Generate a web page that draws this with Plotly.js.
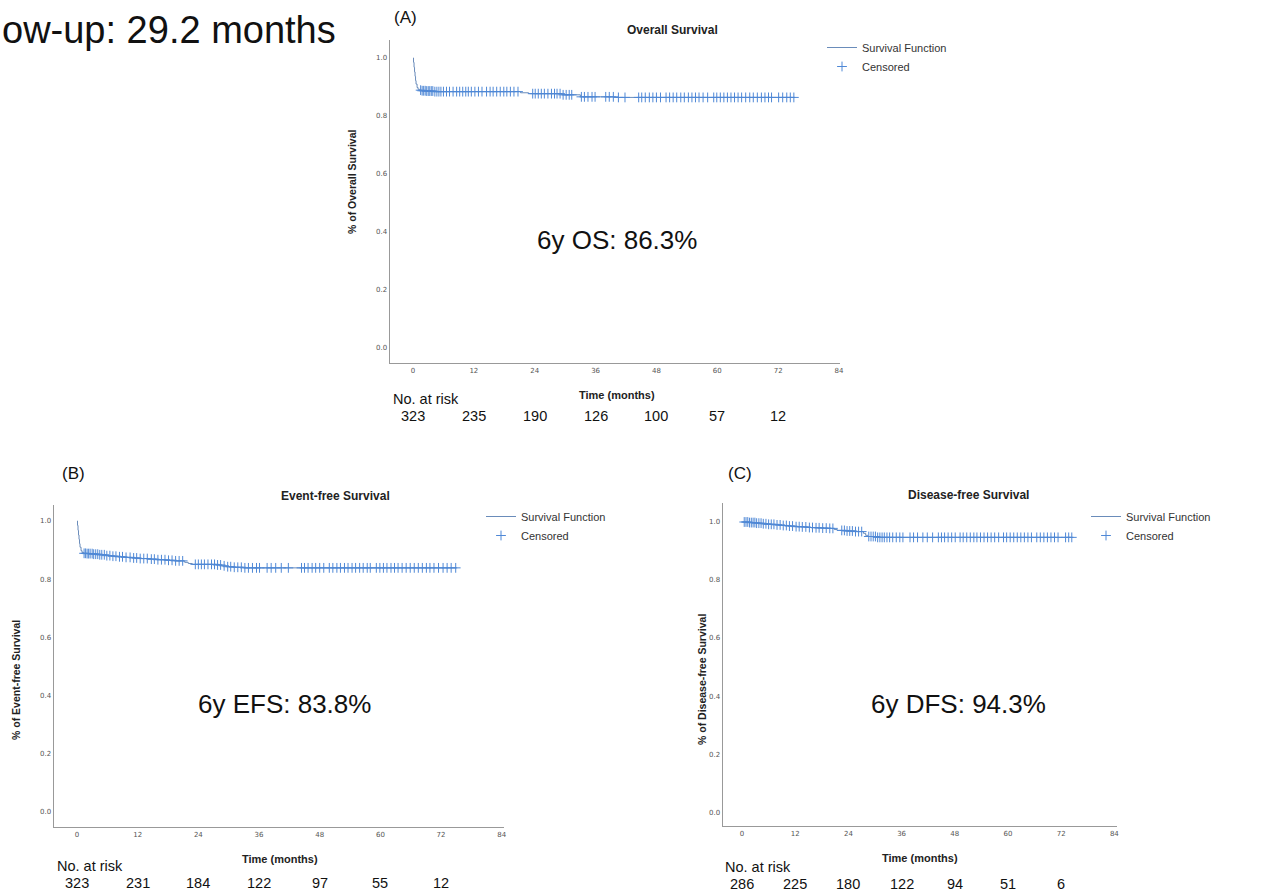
<!DOCTYPE html>
<html><head><meta charset="utf-8">
<script src="https://cdn.plot.ly/plotly-3.0.1.min.js"></script>
<style>html,body{margin:0;padding:0;background:#fff;}#chart{width:1287px;height:896px;}</style>
</head><body><div id="chart"></div>
<script>
// ---------- data ----------
const tickMonths = [0, 12, 24, 36, 48, 60, 72, 84];
const riskMonths = [0, 12, 24, 36, 48, 60, 72];
const yTicks = [0, 0.2, 0.4, 0.6, 0.8, 1.0];
const yTickText = ['0.0', '0.2', '0.4', '0.6', '0.8', '1.0'];

const osRisk = [323, 235, 190, 126, 100, 57, 12];
const efsRisk = [323, 231, 184, 122, 97, 55, 12];
const dfsRisk = [286, 225, 180, 122, 94, 51, 6];

// Overall survival (step function)
const osTime = [0, 0.1, 0.2, 0.3, 0.4, 0.5, 0.6, 0.8, 1.0, 1.3, 1.8, 2.6, 4.0, 21.2, 22.8, 29.4, 33.0, 40.0, 75.2];
const osSurv = [1.0, 0.985, 0.968, 0.952, 0.937, 0.922, 0.910, 0.898, 0.892, 0.889, 0.887, 0.886, 0.884, 0.880, 0.877, 0.873, 0.866, 0.864, 0.864];
const osCensor = [1.5,1.8,2.1,2.4,2.7,3.0,3.3,3.6,3.9,4.3,4.7,5.1,5.5,6.0,6.6,7.2,7.9,8.6,9.2,9.8,10.4,10.9,11.5,12.2,12.9,13.6,14.5,15.2,15.8,16.5,17.2,17.9,18.5,19.2,19.9,20.7,23.6,24.1,24.7,25.3,25.9,26.6,27.3,27.9,28.4,29.0,29.6,30.2,30.8,31.3,33.2,33.8,34.5,35.3,35.9,38.0,38.7,39.5,40.5,41.8,44.5,45.1,45.8,46.6,47.3,48.0,48.8,49.9,50.6,51.3,52.0,52.8,53.5,54.3,55.0,55.7,56.4,57.2,58.1,59.3,59.9,60.6,61.3,62.0,62.7,63.4,64.1,64.8,65.6,66.4,67.1,67.9,68.7,69.4,70.1,70.7,72.1,72.9,73.7,74.4,75.1];

// Event-free survival
const efsTime = [0, 0.1, 0.2, 0.3, 0.4, 0.5, 0.6, 0.8, 1.0, 1.3, 2.0, 3.2, 4.5, 5.8, 7.0, 8.2, 9.5, 11.0, 12.5, 14.0, 15.8, 17.5, 19.5, 21.3, 22.0, 22.8, 27.6, 28.6, 29.6, 31.0, 33.0, 75.2];
const efsSurv = [1.0, 0.985, 0.968, 0.952, 0.937, 0.922, 0.910, 0.898, 0.892, 0.889, 0.888, 0.886, 0.884, 0.881, 0.879, 0.877, 0.875, 0.873, 0.871, 0.869, 0.867, 0.865, 0.863, 0.858, 0.854, 0.851, 0.849, 0.846, 0.843, 0.841, 0.839, 0.839];
const efsCensor = [1.4,1.7,2.0,2.3,2.6,3.0,3.3,3.7,4.1,4.5,4.9,5.4,5.9,6.5,7.1,7.7,8.4,9.0,9.7,10.5,11.2,11.8,12.5,13.2,13.9,14.7,15.3,16.0,16.7,17.4,18.1,18.8,19.5,20.2,20.9,23.4,24.0,24.6,25.2,25.9,26.6,27.2,27.8,28.4,29.1,29.8,30.4,31.1,31.8,32.5,33.2,33.9,34.7,35.5,36.1,37.6,38.4,39.3,40.4,41.8,44.4,45.0,45.7,46.5,47.2,48.0,48.8,49.9,50.6,51.4,52.1,52.9,53.6,54.4,55.1,55.9,56.6,57.4,58.0,59.2,59.9,60.6,61.3,62.1,62.8,63.5,64.3,65.1,65.9,66.7,67.5,68.3,69.1,69.8,70.6,71.5,72.4,73.2,74.0,74.9];

// Disease-free survival
const dfsTime = [0, 1.5, 3.0, 4.5, 6.0, 7.5, 9.0, 10.5, 12.0, 13.5, 15.0, 16.5, 18.0, 19.5, 20.8, 21.5, 23.5, 25.5, 27.4, 27.9, 28.4, 30.5, 74.6];
const dfsSurv = [1.0, 0.998, 0.996, 0.994, 0.992, 0.990, 0.988, 0.986, 0.984, 0.983, 0.981, 0.980, 0.979, 0.978, 0.974, 0.971, 0.969, 0.967, 0.961, 0.954, 0.950, 0.947, 0.947];
const dfsCensor = [0.5,0.9,1.3,1.7,2.1,2.5,2.9,3.3,3.8,4.3,4.8,5.4,6.0,6.6,7.2,7.9,8.6,9.3,10.0,10.7,11.4,12.2,12.9,13.6,14.4,15.2,15.9,16.7,17.4,18.2,19.0,19.8,20.5,22.5,23.1,23.7,24.3,24.9,25.6,26.3,27.0,28.6,29.1,29.6,30.1,30.6,31.1,31.6,32.1,32.7,33.3,34.0,34.8,35.6,36.3,37.9,38.7,39.6,40.8,41.8,43.0,44.3,45.0,45.7,46.5,47.3,48.1,49.2,49.9,50.7,51.5,52.3,53.0,53.8,54.6,55.4,56.2,57.0,57.9,59.0,59.7,60.5,61.3,62.1,62.9,63.7,64.5,65.3,66.5,67.3,68.1,68.9,69.7,70.5,71.3,73.0,73.7,74.4];

// ---------- helpers ----------
const W = 1287, H = 896;
const px = x => x / W;
const py = y => 1 - y / H;
function survAt(times, surv, t) {
  let v = surv[0];
  for (let i = 0; i < times.length; i++) { if (times[i] <= t) v = surv[i]; else break; }
  return v;
}
const LINE_COLOR = '#6a8cba';
const CENS_COLOR = '#4f88d6';
const FONT = 'Liberation Sans, Arial, sans-serif';

function panelTraces(times, surv, cens, xa, ya, leg) {
  return [
    { x: times, y: surv, xaxis: xa, yaxis: ya, legend: leg, type: 'scatter', mode: 'lines',
      line: { shape: 'hv', color: LINE_COLOR, width: 1 }, name: 'Survival Function', hoverinfo: 'skip' },
    { x: cens, y: cens.map(t => survAt(times, surv, t)), xaxis: xa, yaxis: ya, legend: leg, type: 'scatter', mode: 'markers',
      marker: { symbol: 'cross-thin', size: 7, color: CENS_COLOR, line: { color: CENS_COLOR, width: 1 } },
      name: 'Censored', hoverinfo: 'skip' }
  ];
}

const data = [].concat(
  panelTraces(osTime, osSurv, osCensor, 'x', 'y', 'legend'),
  panelTraces(efsTime, efsSurv, efsCensor, 'x2', 'y2', 'legend2'),
  panelTraces(dfsTime, dfsSurv, dfsCensor, 'x3', 'y3', 'legend3')
);

function xAxis(domain, range, anchor) {
  return { domain: domain, range: range, anchor: anchor, showline: true, linecolor: '#999', linewidth: 1.4,
    showgrid: false, zeroline: false, ticks: '', tickvals: tickMonths, ticktext: tickMonths.map(String),
    tickfont: { family: 'DejaVu Sans, sans-serif', size: 7, color: '#555' }, fixedrange: true };
}
function yAxis(domain, range, anchor) {
  return { domain: domain, range: range, anchor: anchor, showline: true, linecolor: '#999', linewidth: 1.4,
    showgrid: false, zeroline: false, ticks: '', tickvals: yTicks, ticktext: yTickText,
    tickfont: { family: 'DejaVu Sans, sans-serif', size: 7, color: '#555' }, fixedrange: true };
}
function legendAt(x, y) {
  return { x: px(x), y: py(y), xanchor: 'left', yanchor: 'top', bgcolor: 'rgba(0,0,0,0)',
    font: { family: FONT, size: 11, color: '#333' }, tracegroupgap: 0, itemwidth: 30 };
}

const annotations = [];
function txt(text, x, y, size, opts) {
  annotations.push(Object.assign({ text: text, x: px(x), y: py(y), xref: 'paper', yref: 'paper',
    showarrow: false, xanchor: 'center', yanchor: 'middle',
    font: { family: FONT, size: size, color: '#111' } }, opts || {}));
}
function risk(values, xref, y) {
  values.forEach((v, i) => annotations.push({ text: String(v), x: riskMonths[i], xref: xref, y: py(y), yref: 'paper',
    showarrow: false, xanchor: 'center', yanchor: 'middle', font: { family: FONT, size: 14.5, color: '#111' } }));
}

txt('ow-up: 29.2 months', 0, 30, 38, { xanchor: 'left' });

// Panel A
txt('(A)', 405, 18, 17);
txt('<b>Overall Survival</b>', 672, 30, 12, { font: { family: FONT, size: 12, color: '#222' } });
txt('<b>% of Overall Survival</b>', 352, 182, 10.5, { textangle: -90, font: { family: FONT, size: 10.5, color: '#222' } });
txt('<b>Time (months)</b>', 617, 395, 11, { font: { family: FONT, size: 11, color: '#222' } });
txt('No. at risk', 391, 399, 14.5, { xanchor: 'left' });
risk(osRisk, 'x', 416);
txt('6y OS: 86.3%', 617, 240, 26);

// Panel B
txt('(B)', 73, 473, 17);
txt('<b>Event-free Survival</b>', 335, 496, 12, { font: { family: FONT, size: 12, color: '#222' } });
txt('<b>% of Event-free Survival</b>', 16, 680, 10.5, { textangle: -90, font: { family: FONT, size: 10.5, color: '#222' } });
txt('<b>Time (months)</b>', 280, 859, 11, { font: { family: FONT, size: 11, color: '#222' } });
txt('No. at risk', 55, 866, 14.5, { xanchor: 'left' });
risk(efsRisk, 'x2', 883);
txt('6y EFS: 83.8%', 284, 704, 26);

// Panel C
txt('(C)', 740, 473, 17);
txt('<b>Disease-free Survival</b>', 968, 495, 12, { font: { family: FONT, size: 12, color: '#222' } });
txt('<b>% of Disease-free Survival</b>', 702, 680, 10.5, { textangle: -90, font: { family: FONT, size: 10.5, color: '#222' } });
txt('<b>Time (months)</b>', 920, 858, 11, { font: { family: FONT, size: 11, color: '#222' } });
txt('No. at risk', 723, 867, 14.5, { xanchor: 'left' });
risk(dfsRisk, 'x3', 884);
txt('6y DFS: 94.3%', 958, 704, 26);

const layout = {
  width: W, height: H, margin: { l: 0, r: 0, t: 0, b: 0 },
  paper_bgcolor: '#fff', plot_bgcolor: '#fff', showlegend: true, hovermode: false,
  xaxis: xAxis([px(390), px(840)], [-4.54, 84.2], 'y'),
  yaxis: yAxis([py(363), py(40)], [-0.0517, 1.062], 'x'),
  xaxis2: xAxis([px(54), px(504)], [-4.55, 84.45], 'y2'),
  yaxis2: yAxis([py(827), py(505)], [-0.0515, 1.055], 'x2'),
  xaxis3: xAxis([px(723), px(1117)], [-4.29, 84.6], 'y3'),
  yaxis3: yAxis([py(826), py(503)], [-0.048, 1.0655], 'x3'),
  legend: legendAt(822, 33),
  legend2: legendAt(481, 502),
  legend3: legendAt(1086, 502),
  annotations: annotations
};

Plotly.newPlot('chart', data, layout, { displayModeBar: false, staticPlot: true });
</script></body></html>
